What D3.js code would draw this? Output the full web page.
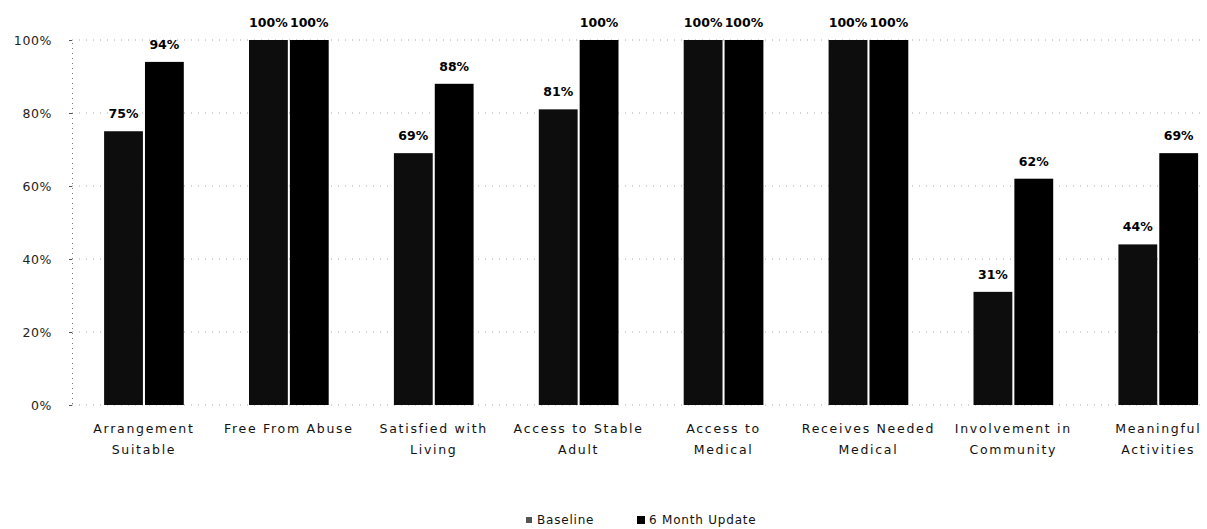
<!DOCTYPE html>
<html>
<head>
<meta charset="utf-8">
<script src="https://cdn.jsdelivr.net/npm/d3@7"></script>
<style>
  html, body { margin: 0; padding: 0; background: #fff; }
  svg { display: block; }
</style>
</head>
<body>
<svg id="chart" width="1207" height="529"></svg>
<script>
// Outcome categories, each shown on one or two lines
const categories = [
  ["Arrangement", "Suitable"],
  ["Free From Abuse"],
  ["Satisfied with", "Living"],
  ["Access to Stable", "Adult"],
  ["Access to", "Medical"],
  ["Receives Needed", "Medical"],
  ["Involvement in", "Community"],
  ["Meaningful", "Activities"]
];
const seriesNames = ["Baseline", "6 Month Update"];
const baseline = [75, 100, 69, 81, 100, 100, 31, 44];
const sixMonth = [94, 100, 88, 100, 100, 100, 62, 69];
const yTicks = [0, 20, 40, 60, 80, 100];

const colors = { "Baseline": "#0d0d0d", "6 Month Update": "#000000" };

const svg = d3.select("#chart");
const keys = categories.map(c => c.join(" "));
const rows = keys.map((k, i) => ({ key: k, lines: categories[i], values: [baseline[i], sixMonth[i]] }));

const x0 = d3.scaleBand().domain(keys).range([71.5, 1230.7]).paddingInner(0.45).paddingOuter(0.225);
const x1 = d3.scaleBand().domain(seriesNames).range([0, x0.bandwidth()]).paddingInner(0.05);
const y = d3.scaleLinear().domain([0, 100]).range([405, 40]);

// Dotted horizontal gridlines
svg.append("g")
  .selectAll("line")
  .data(yTicks)
  .join("line")
  .attr("x1", 72).attr("x2", 1200)
  .attr("y1", d => y(d)).attr("y2", d => y(d))
  .attr("stroke", "#a8a8a8")
  .attr("stroke-width", 1)
  .attr("stroke-dasharray", "1,6");

// Y axis (dotted line, percentage labels)
const yAxis = d3.axisLeft(y).tickValues(yTicks).tickFormat(d => d + "%").tickSize(3).tickPadding(17);
const ya = svg.append("g").attr("transform", "translate(72,0)").call(yAxis);
ya.select(".domain").attr("stroke", "#777").attr("stroke-dasharray", "1,4");
ya.selectAll(".tick line").attr("stroke", "#555");
ya.selectAll(".tick text")
  .attr("font-family", "'DejaVu Sans', Verdana, sans-serif")
  .attr("font-size", 12.5)
  .attr("letter-spacing", 0.6)
  .attr("fill", "#222");

// Grouped bars
const groups = svg.append("g")
  .selectAll("g")
  .data(rows)
  .join("g")
  .attr("transform", d => `translate(${x0(d.key)},0)`);

groups.selectAll("rect")
  .data(d => d.values.map((v, i) => ({ s: seriesNames[i], v })))
  .join("rect")
  .attr("x", d => x1(d.s))
  .attr("width", x1.bandwidth())
  .attr("y", d => y(d.v))
  .attr("height", d => y(0) - y(d.v))
  .attr("fill", d => colors[d.s]);

// Value labels above bars
groups.selectAll("text.val")
  .data(d => d.values.map((v, i) => ({ s: seriesNames[i], v })))
  .join("text")
  .attr("class", "val")
  .attr("x", d => x1(d.s) + x1.bandwidth() / 2)
  .attr("y", d => y(d.v) - 13)
  .attr("text-anchor", "middle")
  .attr("font-family", "'DejaVu Sans', Verdana, sans-serif")
  .attr("font-weight", "bold")
  .attr("font-size", 12.5)
  .attr("fill", "#000")
  .text(d => d.v + "%");

// Category labels under the axis
const cat = svg.append("g")
  .selectAll("text")
  .data(rows)
  .join("text")
  .attr("x", d => x0(d.key) + x0.bandwidth() / 2)
  .attr("y", 433)
  .attr("text-anchor", "middle")
  .attr("font-family", "'DejaVu Sans', Verdana, sans-serif")
  .attr("font-size", 12.5)
  .attr("letter-spacing", 1.7)
  .attr("fill", "#111");
cat.selectAll("tspan")
  .data(d => d.lines.map(l => ({ l, x: x0(d.key) + x0.bandwidth() / 2 })))
  .join("tspan")
  .attr("x", d => d.x)
  .attr("dy", (d, i) => i === 0 ? 0 : 21)
  .text(d => d.l);

// Legend
const legend = svg.append("g").attr("transform", "translate(525,524)");
const legendItems = [
  { name: "Baseline", x: 0, size: 6, fill: "#555" },
  { name: "6 Month Update", x: 112, size: 8, fill: "#000" }
];
const li = legend.selectAll("g").data(legendItems).join("g")
  .attr("transform", d => `translate(${d.x},0)`);
li.append("rect")
  .attr("x", d => 4 - d.size / 2)
  .attr("y", d => -d.size / 2 - 4)
  .attr("width", d => d.size)
  .attr("height", d => d.size)
  .attr("fill", d => d.fill);
li.append("text")
  .attr("x", 12)
  .attr("y", 0)
  .attr("font-family", "'DejaVu Sans', Verdana, sans-serif")
  .attr("font-size", 12)
  .attr("letter-spacing", 0.8)
  .attr("fill", "#111")
  .text(d => d.name);
</script>
</body>
</html>
